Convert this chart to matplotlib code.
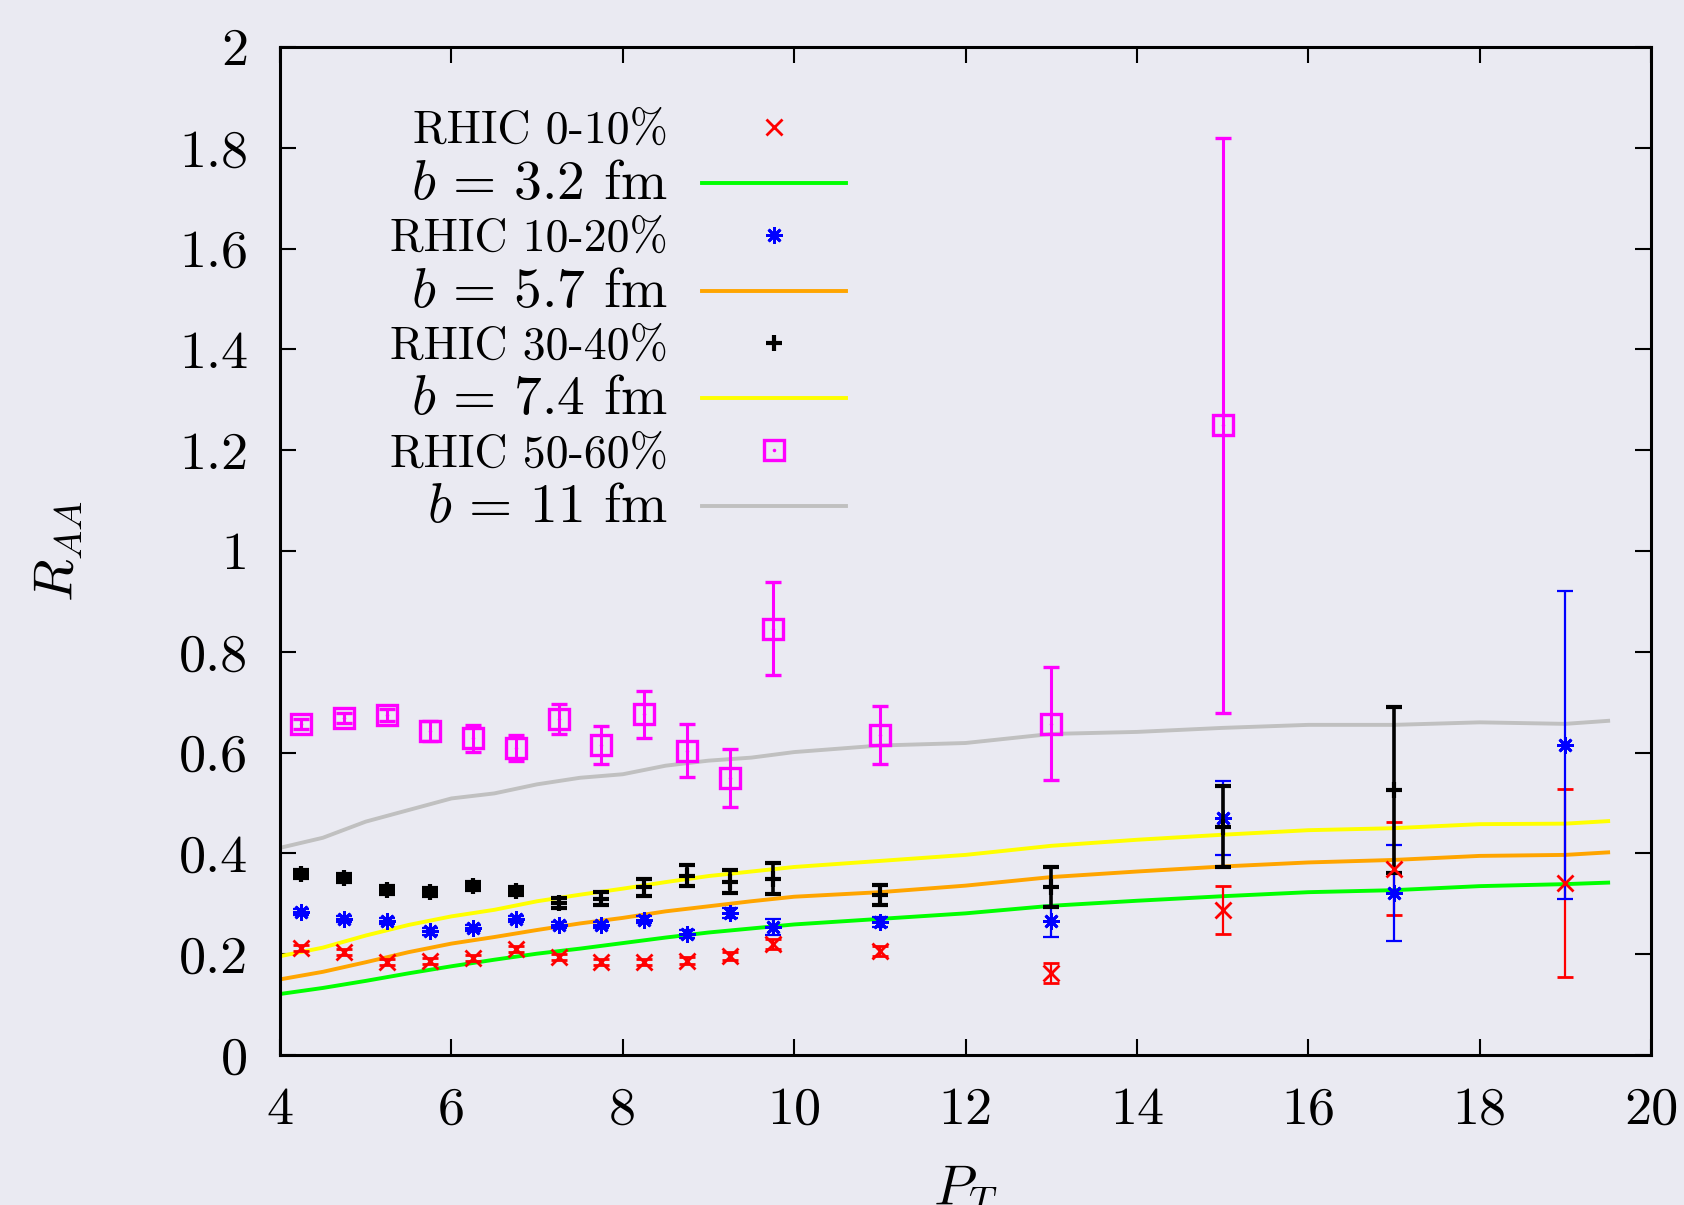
import matplotlib
matplotlib.use('Agg')
import matplotlib.pyplot as plt
from matplotlib.lines import Line2D

# measured points (pT bins)
pt_bins = [4.25, 4.75, 5.25, 5.75, 6.25, 6.75, 7.25, 7.75, 8.25, 8.75, 9.25, 9.75, 11, 13, 15, 17, 19]

raa_0_10 = [0.212, 0.204, 0.184, 0.187, 0.192, 0.210, 0.194, 0.185, 0.185, 0.187, 0.197, 0.220,
            0.207, 0.163, 0.288, 0.370, 0.341]
err_0_10 = [0.006, 0.006, 0.006, 0.006, 0.006, 0.006, 0.006, 0.006, 0.006, 0.007, 0.008, 0.010,
            0.010, 0.020, 0.048, 0.092, 0.187]

raa_10_20 = [0.283, 0.269, 0.265, 0.245, 0.252, 0.269, 0.258, 0.258, 0.268, 0.240, 0.282, 0.254,
             0.263, 0.265, 0.470, 0.322, 0.615]
err_10_20 = [0.006, 0.006, 0.006, 0.006, 0.006, 0.006, 0.006, 0.006, 0.007, 0.008, 0.010, 0.016,
             0.010, 0.030, 0.073, 0.095, 0.305]

raa_30_40 = [0.360, 0.351, 0.327, 0.323, 0.335, 0.326, 0.301, 0.310, 0.333, 0.356, 0.344, 0.350,
             0.318, 0.333, 0.453, 0.526]
err_30_40 = [0.008, 0.008, 0.008, 0.008, 0.008, 0.008, 0.010, 0.013, 0.017, 0.020, 0.023, 0.030,
             0.020, 0.040, 0.080, 0.165]

raa_50_60 = [0.657, 0.668, 0.674, 0.643, 0.628, 0.609, 0.666, 0.615, 0.676, 0.604, 0.550, 0.846,
             0.635, 0.657, 1.249]
err_50_60 = [0.010, 0.010, 0.012, 0.020, 0.026, 0.026, 0.030, 0.038, 0.047, 0.052, 0.057, 0.092,
             0.057, 0.112, 0.570]

# model curves
pt_model = [4, 4.5, 5, 5.5, 6, 6.5, 7, 7.5, 8, 8.5, 9, 9.5, 10, 11, 12, 13, 14, 15, 16, 17, 18, 19, 19.5]
model_b32 = [0.121, 0.133, 0.147, 0.162, 0.176, 0.189, 0.201, 0.211, 0.222, 0.233, 0.243, 0.251,
             0.259, 0.270, 0.281, 0.296, 0.306, 0.315, 0.323, 0.327, 0.335, 0.339, 0.342]
model_b57 = [0.150, 0.165, 0.184, 0.204, 0.221, 0.234, 0.248, 0.261, 0.272, 0.285, 0.295, 0.305,
             0.314, 0.323, 0.336, 0.353, 0.364, 0.374, 0.382, 0.387, 0.395, 0.397, 0.402]
model_b74 = [0.196, 0.213, 0.237, 0.258, 0.275, 0.288, 0.305, 0.318, 0.330, 0.343, 0.355, 0.364,
             0.373, 0.385, 0.397, 0.415, 0.427, 0.437, 0.446, 0.450, 0.458, 0.459, 0.464]
model_b11 = [0.411, 0.431, 0.463, 0.486, 0.509, 0.519, 0.537, 0.550, 0.557, 0.574, 0.584, 0.590,
             0.601, 0.614, 0.619, 0.637, 0.641, 0.649, 0.655, 0.655, 0.660, 0.657, 0.663]

x_ticks = [4, 6, 8, 10, 12, 14, 16, 18, 20]
y_ticks = [0, 0.2, 0.4, 0.6, 0.8, 1, 1.2, 1.4, 1.6, 1.8, 2]
y_tick_labels = ['0', '0.2', '0.4', '0.6', '0.8', '1', '1.2', '1.4', '1.6', '1.8', '2']

BG = '#eaeaf2'
ASTERISK = (8, 2, 0)  # gnuplot style: + and x overlaid

plt.rcParams['font.family'] = 'serif'
plt.rcParams['font.serif'] = ['cmr10']
plt.rcParams['mathtext.fontset'] = 'cm'
plt.rcParams['axes.formatter.use_mathtext'] = True

fig = plt.figure(figsize=(16.84, 12.05), dpi=100, facecolor=BG)
ax = fig.add_axes([0.1663, 0.1245, 0.8141, 0.8365])
ax.set_facecolor(BG)

# model lines
ax.plot(pt_model, model_b32, color='#00ff00', lw=2.8)
ax.plot(pt_model, model_b57, color='#ffa500', lw=2.8)
ax.plot(pt_model, model_b74, color='#ffff00', lw=2.8)
ax.plot(pt_model, model_b11, color='#c0c0c0', lw=2.8)

# data with errors
ax.errorbar(pt_bins, raa_0_10, yerr=err_0_10, fmt='x', color='#ff0000', ms=11, mew=2,
            elinewidth=1.6, capsize=5.5, capthick=1.6)
ax.errorbar(pt_bins, raa_10_20, yerr=err_10_20, fmt='none', ecolor='#0000ff',
            elinewidth=1.6, capsize=5.5, capthick=1.6)
ax.plot(pt_bins, raa_10_20, ls='none', marker=ASTERISK, color='#0000ff', ms=12, mew=2)
ax.errorbar(pt_bins[:len(raa_30_40)], raa_30_40, yerr=err_30_40, fmt='+', color='black',
            ms=11, mew=3, elinewidth=2.6, capsize=5.5, capthick=2.6)
ax.errorbar(pt_bins[:len(raa_50_60)], raa_50_60, yerr=err_50_60, fmt='s', color='#ff00ff',
            mfc='none', ms=14, mew=2.4, elinewidth=2.2, capsize=5.5, capthick=2.2)
ax.plot(pt_bins[:len(raa_50_60)], raa_50_60, ls='none', marker='.', color='#ff00ff', ms=3)

ax.set_xlim(4, 20)
ax.set_ylim(0, 2)
ax.set_xticks(x_ticks)
ax.set_xticklabels([str(t) for t in x_ticks])
ax.set_yticks(y_ticks)
ax.set_yticklabels(y_tick_labels)
ax.tick_params(direction='in', length=11.5, width=1.5, top=True, right=True,
               labelsize=39, pad=23)
for sp in ax.spines.values():
    sp.set_linewidth(2.2)
    sp.set_color('black')

ax.set_ylabel(r'$R_{AA}$', fontsize=40)
ax.yaxis.set_label_coords(-0.142, 0.5)
ax.set_xlabel(r'$P_T$', fontsize=40)
ax.xaxis.set_label_coords(0.5, -0.108)
ax.xaxis.label.set_va('top')

sq_legend = (Line2D([], [], ls='none', marker='s', color='#ff00ff', mfc='none', ms=14, mew=2.4),
             Line2D([], [], ls='none', marker='.', color='#ff00ff', ms=3))
handles = [
    Line2D([], [], ls='none', marker='x', color='#ff0000', ms=11, mew=2),
    Line2D([], [], color='#00ff00', lw=2.8),
    Line2D([], [], ls='none', marker=ASTERISK, color='#0000ff', ms=12, mew=2),
    Line2D([], [], color='#ffa500', lw=2.8),
    Line2D([], [], ls='none', marker='+', color='black', ms=11, mew=3),
    Line2D([], [], color='#ffff00', lw=2.8),
    sq_legend,
    Line2D([], [], color='#c0c0c0', lw=2.8),
]
labels = ['RHIC 0-10%', r'$b \,=\, 3.2$ fm', 'RHIC 10-20%', r'$b \,=\, 5.7$ fm',
          'RHIC 30-40%', r'$b \,=\, 7.4$ fm', 'RHIC 50-60%', r'$b \,=\, 11$ fm']
leg = ax.legend(handles, labels, loc='upper left', bbox_to_anchor=(0.080, 0.937),
                frameon=False, markerfirst=False, fontsize=33, handlelength=3.15,
                handletextpad=0.75, labelspacing=0.18, borderpad=0, borderaxespad=0)
for i, txt in enumerate(leg.get_texts()):
    if i % 2 == 1:
        txt.set_fontsize(40)

fig.savefig('out.png', dpi=100, facecolor=BG)
